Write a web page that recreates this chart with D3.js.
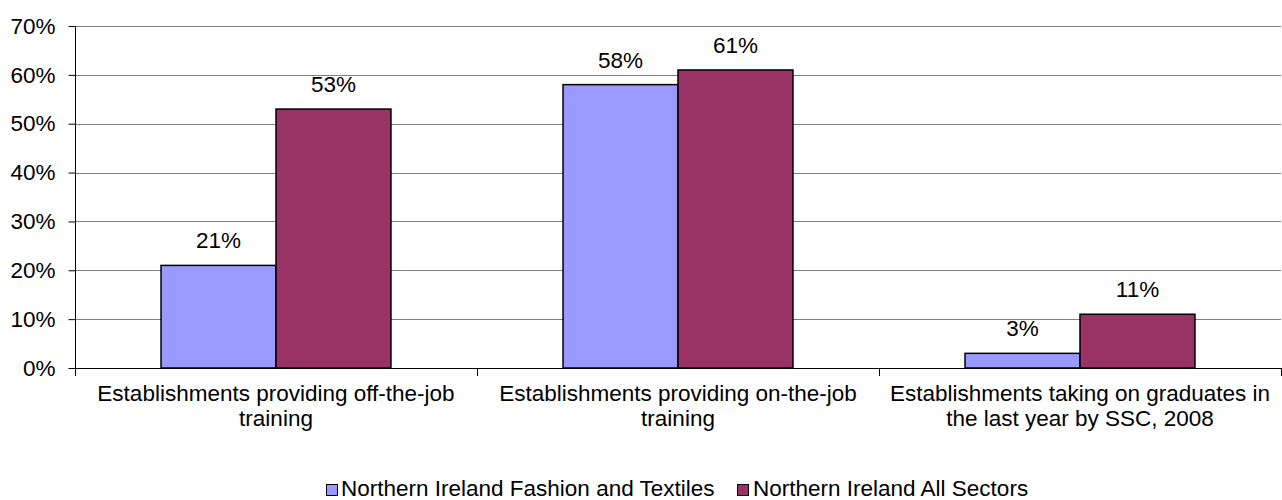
<!DOCTYPE html>
<html><head><meta charset="utf-8">
<script src="https://cdn.jsdelivr.net/npm/d3@7"></script>
<style>body{margin:0;background:#fff;} text{font-family:"Liberation Sans",Arial,sans-serif;fill:#000;}</style>
</head><body>
<svg id="chart" width="1282" height="500"></svg>
<script>
const categories = [
  ["Establishments providing off-the-job", "training"],
  ["Establishments providing on-the-job", "training"],
  ["Establishments taking on graduates in", "the last year by SSC, 2008"]
];
const seriesNames = ["Northern Ireland Fashion and Textiles", "Northern Ireland All Sectors"];
const fashionValues = [21, 58, 3];
const allSectorsValues = [53, 61, 11];
const yTicks = [0, 10, 20, 30, 40, 50, 60, 70];
const colors = ["#9999FF", "#993366"];

const svg = d3.select("#chart");
const m = {left: 75, right: 1281, top: 26, bottom: 368};
const fs = 22.5;

const x0 = d3.scaleBand().domain(d3.range(categories.length)).range([m.left, m.right]).paddingInner(0).paddingOuter(0);
const inner = 0.572;
const x1 = d3.scaleBand().domain([0,1]).range([0, x0.bandwidth()*inner]);
const y = d3.scaleLinear().domain([0, 70]).range([m.bottom, m.top]);

// gridlines
svg.append("g").selectAll("line").data(yTicks.filter(d=>d>0)).join("line")
  .attr("x1", m.left).attr("x2", m.right)
  .attr("y1", d=>Math.round(y(d))+0.5).attr("y2", d=>Math.round(y(d))+0.5)
  .attr("stroke", "#808080").attr("stroke-width", 1);

// y axis
const yAxis = d3.axisLeft(y).tickValues(yTicks).tickFormat(d=>d+"%").tickSize(7).tickPadding(13);
const gy = svg.append("g").attr("transform", `translate(${m.left+0.5},0)`).call(yAxis);
gy.select(".domain").attr("stroke", "#000").attr("d", `M0,${m.top}V${m.bottom}`);
gy.selectAll(".tick line").attr("stroke", "#000");
gy.selectAll(".tick text").attr("font-size", fs).attr("font-family", '"Liberation Sans",Arial,sans-serif').attr("fill","#000");

// bars
const data = categories.map((c,i)=>({i, vals:[fashionValues[i], allSectorsValues[i]]}));
const groups = svg.append("g").selectAll("g").data(data).join("g")
  .attr("transform", d=>`translate(${x0(d.i) + x0.bandwidth()*(1-inner)/2},0)`);
groups.selectAll("rect").data(d=>d.vals.map((v,k)=>({v,k}))).join("rect")
  .attr("x", d=>x1(d.k)).attr("width", x1.bandwidth())
  .attr("y", d=>y(d.v)).attr("height", d=>y(0)-y(d.v))
  .attr("fill", d=>colors[d.k]).attr("stroke", "#000").attr("stroke-width", 1.5);
groups.selectAll("text").data(d=>d.vals.map((v,k)=>({v,k}))).join("text")
  .attr("x", d=>x1(d.k)+x1.bandwidth()/2).attr("y", d=>y(d.v)-17)
  .attr("text-anchor", "middle").attr("font-size", fs).text(d=>d.v+"%");

// x axis line + category ticks
svg.append("line").attr("x1", m.left).attr("x2", m.right).attr("y1", m.bottom+0.5).attr("y2", m.bottom+0.5).attr("stroke", "#000");
svg.append("g").selectAll("line").data(d3.range(categories.length+1)).join("line")
  .attr("x1", d=>Math.round(m.left + d*x0.step())+0.5).attr("x2", d=>Math.round(m.left + d*x0.step())+0.5)
  .attr("y1", m.bottom).attr("y2", m.bottom+8).attr("stroke", "#000");

// category labels
const cl = svg.append("g").selectAll("text").data(categories).join("text")
  .attr("text-anchor", "middle").attr("font-size", fs)
  .attr("transform", (d,i)=>`translate(${x0(i)+x0.bandwidth()/2},0)`);
cl.selectAll("tspan").data(d=>d).join("tspan").attr("x", 0).attr("y", (d,j)=>401 + j*25).text(d=>d);

// legend
const legendItems = [{x:326, tx:341}, {x:737, tx:753}];
const lg = svg.append("g").selectAll("g").data(seriesNames).join("g");
lg.append("rect").attr("x", (d,i)=>legendItems[i].x+0.5).attr("y", 484.5).attr("width", 11).attr("height", 11)
  .attr("fill", (d,i)=>colors[i]).attr("stroke", "#000");
lg.append("text").attr("x", (d,i)=>legendItems[i].tx).attr("y", 496).attr("font-size", fs).text(d=>d);
</script>
</body></html>
